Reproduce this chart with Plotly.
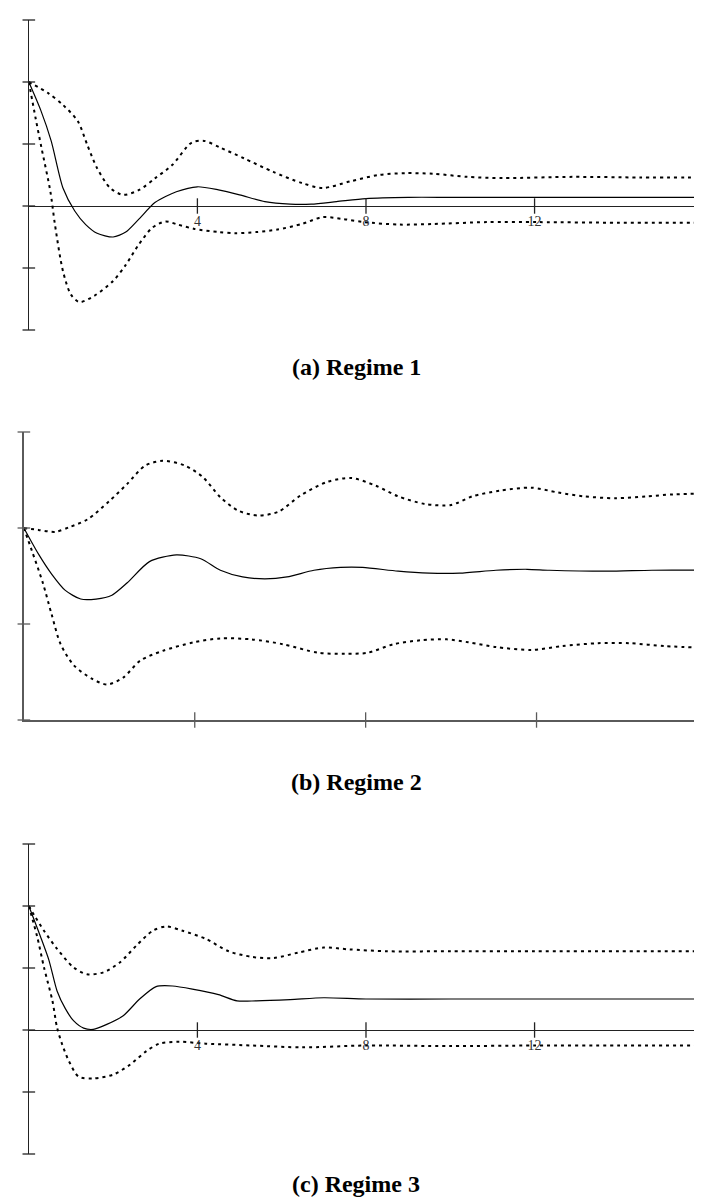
import plotly.graph_objects as go

W, H = 702, 1199

# ---------------- data ----------------
# Panel (a) Regime 1
a_mid_x = [0, 0.28, 0.53, 0.81, 1.09, 1.35, 1.62, 2.0, 2.3, 2.6, 3.0, 3.5, 4.0, 4.5, 5.0, 5.6, 6.2, 6.7, 7.3, 8.0, 9, 10, 11, 12, 13, 14, 15, 16]
a_mid_y = [2.0, 1.55, 1.05, 0.29, -0.08, -0.3, -0.44, -0.5, -0.42, -0.22, 0.06, 0.23, 0.31, 0.26, 0.18, 0.07, 0.03, 0.03, 0.07, 0.12, 0.14, 0.14, 0.14, 0.14, 0.14, 0.14, 0.14, 0.14]
a_up_x = [0, 0.46, 0.81, 1.16, 1.39, 1.62, 1.93, 2.24, 2.62, 3.0, 3.4, 3.86, 4.16, 4.55, 5.1, 5.8, 6.48, 6.97, 7.64, 8.3, 8.95, 9.6, 10.4, 11.25, 12.9, 14.5, 16]
a_up_y = [2.0, 1.82, 1.63, 1.37, 0.98, 0.61, 0.29, 0.18, 0.26, 0.45, 0.66, 1.02, 1.05, 0.94, 0.77, 0.55, 0.37, 0.29, 0.4, 0.5, 0.53, 0.52, 0.47, 0.45, 0.47, 0.46, 0.46]
a_lo_x = [0, 0.16, 0.3, 0.51, 0.62, 0.81, 1.0, 1.2, 1.55, 2.0, 2.3, 2.6, 2.93, 3.24, 3.54, 3.93, 4.5, 4.9, 5.4, 5.9, 6.48, 6.97, 7.46, 7.96, 8.8, 9.6, 10.86, 12.1, 14, 16]
a_lo_y = [2.0, 1.42, 0.94, 0.24, -0.3, -1.05, -1.43, -1.55, -1.45, -1.21, -0.95, -0.63, -0.35, -0.25, -0.3, -0.37, -0.42, -0.44, -0.42, -0.38, -0.29, -0.18, -0.21, -0.26, -0.3, -0.29, -0.26, -0.26, -0.27, -0.27]

# Panel (b) Regime 2
b_mid_x = [0, 0.34, 0.65, 0.97, 1.33, 1.69, 2.06, 2.42, 2.94, 3.57, 4.14, 4.6, 5.12, 5.64, 6.16, 6.79, 7.41, 7.93, 8.76, 9.49, 10.2, 11.05, 11.78, 12.3, 13.65, 14.7, 16]
b_mid_y = [0, -0.27, -0.48, -0.65, -0.74, -0.74, -0.7, -0.57, -0.35, -0.28, -0.32, -0.44, -0.51, -0.53, -0.51, -0.44, -0.41, -0.41, -0.45, -0.47, -0.47, -0.44, -0.43, -0.44, -0.45, -0.44, -0.44]
b_up_x = [0, 0.34, 0.74, 1.07, 1.49, 2.0, 2.42, 2.84, 3.25, 3.77, 4.19, 4.6, 5.02, 5.49, 5.96, 6.48, 7.1, 7.67, 8.24, 8.76, 9.39, 10.0, 10.5, 11.15, 11.88, 12.5, 13.1, 13.86, 14.58, 15.2, 16]
b_up_y = [0, -0.02, -0.04, 0.01, 0.09, 0.28, 0.46, 0.65, 0.7, 0.65, 0.53, 0.32, 0.18, 0.13, 0.17, 0.34, 0.48, 0.52, 0.44, 0.33, 0.25, 0.24, 0.33, 0.39, 0.42, 0.37, 0.33, 0.31, 0.33, 0.35, 0.36]
b_lo_x = [0, 0.19, 0.45, 0.65, 0.86, 1.17, 1.59, 1.95, 2.32, 2.73, 3.25, 3.98, 4.6, 5.33, 6.06, 6.89, 7.52, 8.04, 8.66, 9.28, 9.9, 10.4, 11.05, 11.88, 12.6, 13.44, 14.17, 15.0, 16]
b_lo_y = [0, -0.24, -0.58, -0.9, -1.21, -1.43, -1.57, -1.63, -1.56, -1.38, -1.28, -1.19, -1.15, -1.16, -1.21, -1.3, -1.31, -1.3, -1.21, -1.17, -1.16, -1.19, -1.24, -1.27, -1.23, -1.2, -1.2, -1.23, -1.25]

# Panel (c) Regime 3
c_mid_x = [0, 0.28, 0.48, 0.67, 0.87, 1.06, 1.3, 1.53, 1.85, 2.24, 2.63, 3.02, 3.41, 3.88, 4.5, 4.94, 5.4, 6.2, 7.0, 8, 10, 12, 14, 16]
c_mid_y = [2.0, 1.5, 1.12, 0.63, 0.34, 0.15, 0.03, 0.01, 0.09, 0.23, 0.5, 0.7, 0.71, 0.66, 0.57, 0.47, 0.47, 0.49, 0.52, 0.5, 0.5, 0.5, 0.5, 0.5]
c_up_x = [0, 0.13, 0.36, 0.67, 1.06, 1.38, 1.77, 2.16, 2.55, 2.94, 3.26, 3.65, 4.2, 4.74, 5.29, 5.8, 6.4, 7.0, 7.6, 8.5, 10, 12, 14, 16]
c_up_y = [2.0, 1.85, 1.6, 1.31, 1.01, 0.9, 0.93, 1.09, 1.36, 1.6, 1.67, 1.6, 1.47, 1.27, 1.18, 1.16, 1.25, 1.33, 1.3, 1.27, 1.27, 1.27, 1.27, 1.27]
c_lo_x = [0, 0.2, 0.36, 0.56, 0.67, 0.79, 0.95, 1.18, 1.53, 2.0, 2.4, 2.79, 3.1, 3.57, 4.2, 5.3, 6.5, 8, 10, 12, 14, 16]
c_lo_y = [2.0, 1.5, 1.01, 0.47, 0.04, -0.23, -0.5, -0.75, -0.78, -0.72, -0.56, -0.34, -0.22, -0.19, -0.22, -0.25, -0.28, -0.25, -0.26, -0.25, -0.25, -0.25]

x_ticks = [4, 8, 12, 16]
x_tick_text = ["4", "8", "12", "16"]
y_ticks_ac = [-2, -1, 0, 1, 2, 3]
y_ticks_b = [-2, -1, 0, 1]
titles = ["(a) Regime 1", "(b) Regime 2", "(c) Regime 3"]

# ---------------- layout geometry (pixels) ----------------
def fy(py):
    return 1 - py / H

panels = [
    dict(k="", xl=21, top=12, bot=322, yr=[-2, 3], xmax=16.02, yt=y_ticks_ac, lab=True, col="#222", lw=1.3),
    dict(k="2", xl=16, top=424, bot=712, yr=[-2, 1], xmax=15.92, yt=y_ticks_b, lab=False, col="#5a5a5a", lw=2),
    dict(k="3", xl=21, top=836, bot=1146, yr=[-2, 3], xmax=16.02, yt=y_ticks_ac, lab=True, col="#222", lw=1.3),
]
series = [
    (a_mid_x, a_mid_y, a_up_x, a_up_y, a_lo_x, a_lo_y),
    (b_mid_x, b_mid_y, b_up_x, b_up_y, b_lo_x, b_lo_y),
    (c_mid_x, c_mid_y, c_up_x, c_up_y, c_lo_x, c_lo_y),
]
title_py = [359, 774, 1176]

fig = go.Figure()
layout = dict(width=W, height=H, margin=dict(l=0, r=0, t=0, b=0),
              paper_bgcolor="white", plot_bgcolor="white", showlegend=False)
annotations = []

for i, (p, s) in enumerate(zip(panels, series)):
    xa, ya = "x" + p["k"], "y" + p["k"]
    mx, my, ux, uy, lx, ly = s
    dash = dict(color="black", width=2, dash="3px,4px")
    fig.add_trace(go.Scatter(x=ux, y=uy, mode="lines", line=dict(shape="spline", smoothing=0.8, **dash), xaxis=xa, yaxis=ya))
    fig.add_trace(go.Scatter(x=lx, y=ly, mode="lines", line=dict(shape="spline", smoothing=0.8, **dash), xaxis=xa, yaxis=ya))
    fig.add_trace(go.Scatter(x=mx, y=my, mode="lines", line=dict(color="black", width=1.2, shape="spline", smoothing=0.7), xaxis=xa, yaxis=ya))

    d0, d1 = fy(p["bot"]), fy(p["top"])
    ymin, ymax = p["yr"]
    xaxis_y = 0 if p["lab"] else ymin
    # crossing tick marks
    fig.add_trace(go.Scatter(x=[0] * len(p["yt"]), y=p["yt"], mode="markers", cliponaxis=False,
                             marker=dict(symbol="line-ew-open", size=9, color=p["col"],
                                         line=dict(width=1.3, color=p["col"])),
                             xaxis=xa, yaxis=ya, hoverinfo="skip"))
    vis_ticks = [t for t in x_ticks if t <= p["xmax"]]
    fig.add_trace(go.Scatter(x=vis_ticks, y=[xaxis_y] * len(vis_ticks), mode="markers", cliponaxis=False,
                             marker=dict(symbol="line-ns-open", size=11, color=p["col"],
                                         line=dict(width=1.3, color=p["col"])),
                             xaxis=xa, yaxis=ya, hoverinfo="skip"))

    xdom = [p["xl"] / W, 1]
    pos = d0 + (0 - ymin) / (ymax - ymin) * (d1 - d0)
    xdef = dict(domain=xdom, range=[0, p["xmax"]], showgrid=False, zeroline=False,
                tickvals=x_ticks, ticktext=x_tick_text, ticklabeloverflow="allow",
                tickfont=dict(family="Liberation Serif", size=14, color="#333"))
    if p["lab"]:
        xdef.update(anchor="free", position=pos, showline=False, showticklabels=True,
                    ticks="outside", ticklen=2, tickcolor="rgba(0,0,0,0)")
    else:
        xdef.update(anchor=ya, showline=True, linecolor=p["col"], linewidth=p["lw"],
                    showticklabels=False, ticks="")
    ydef = dict(domain=[d0, d1], range=p["yr"], anchor=xa, showgrid=False,
                showline=True, linecolor=p["col"], linewidth=p["lw"], showticklabels=False, ticks="",
                zeroline=p["lab"], zerolinecolor=p["col"], zerolinewidth=p["lw"])
    layout["xaxis" + p["k"]] = xdef
    layout["yaxis" + p["k"]] = ydef

    annotations.append(dict(text="<b>" + titles[i] + "</b>", xref="paper", yref="paper",
                            x=0.5, y=fy(title_py[i]), xanchor="center", yanchor="middle",
                            showarrow=False, font=dict(family="Liberation Serif", size=24, color="black")))

layout["annotations"] = annotations
fig.update_layout(**layout)
fig.write_html("out.html")
